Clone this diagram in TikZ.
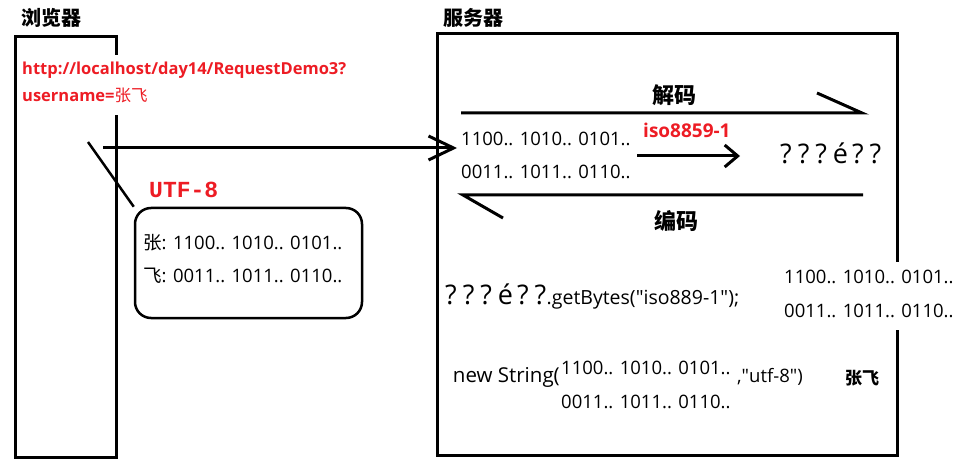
\documentclass[tikz,border=0pt]{standalone}
\usepackage{fontspec}
\setmainfont{Open Sans}
\newfontfamily\cjk{Noto Sans CJK SC}
\newfontfamily\monof{Liberation Mono}
\usetikzlibrary{arrows.meta}
\definecolor{rd}{RGB}{237,28,36}
\newcommand{\qq}{?\hspace{6pt}?\hspace{6pt}?\hspace{6pt}é\hspace{4pt}?\hspace{6pt}?}
\newcommand{\dq}{\XeTeXglyph\the\XeTeXcharglyph"22\relax}
\begin{document}
\begin{tikzpicture}[x=1pt,y=-1pt,
  thick3/.style={line width=3pt},
  txt/.style={inner sep=0pt,anchor=base west,font=\fontsize{18.5}{20}\selectfont},
  redtxt/.style={inner sep=0pt,anchor=base west,text=rd,font=\fontsize{16.5}{18}\selectfont\bfseries},
  title/.style={inner sep=0pt,font=\fontsize{20}{22}\selectfont\cjk\bfseries},
  big/.style={inner sep=0pt,anchor=base west,font=\fontsize{27}{29}\selectfont},
  barb/.style={-{Straight Barb[length=25pt,width=24pt,line width=3pt]}}
]
\useasboundingbox (0,0) rectangle (969,470);
% boxes
\draw[thick3] (15,37) rectangle (116,457);
\draw[thick3] (437,34) rectangle (897,455);
\fill[white] (110,55) rectangle (122,115);
\fill[white] (890,262) rectangle (904,330);
% titles
\node[title] (tb) at (51,18) {浏览器};
\node[title] (ts) at (473,18) {服务器};
% url
\node[redtxt] (url1) at (22,75) {http://localhost/day14/RequestDemo3?};
\node[redtxt] (url2) at (22,102) {username={\cjk\mdseries 张飞}};
% main arrow
\coordinate (a0) at (103,148);
\coordinate (a1) at (457,148);
\draw[thick3,barb] (a0) -- (a1);
% diagonal to box
\coordinate (d0) at (88,142);
\node[draw,line width=2.5pt,rounded corners=16pt,minimum width=227pt,minimum height=110pt] (ubox) at (248.5,263) {};
\draw[line width=2.5pt] (d0) -- (ubox.north west);
\node[inner sep=0pt,anchor=base west,text=rd,font=\fontsize{23}{25}\selectfont\monof\bfseries] (utf) at (149,198) {UTF-8};
\node[txt] (z1) at (143,250) {{\cjk 张}: 1100.. 1010.. 0101..};
\node[txt] (z2) at (143,283) {{\cjk 飞}: 0011.. 1011.. 0110..};
% server
\coordinate (j0) at (461,113);
\coordinate (j1) at (862,113);
\draw[thick3] (j0) -- (j1) -- ++(-45,-20);
\node[title,font=\fontsize{22}{24}\selectfont\cjk\bfseries] (jm) at (674,95) {解码};
\coordinate (b0) at (863,195);
\coordinate (b1) at (463,195);
\draw[thick3] (b0) -- (b1) -- ++(40,23);
\node[title,font=\fontsize{22}{24}\selectfont\cjk\bfseries] (bm) at (676,221) {编码};
\node[txt] (s1) at (461,146) {1100.. 1010.. 0101..};
\node[txt] (s2) at (461,179) {0011.. 1011.. 0110..};
\node[redtxt,font=\fontsize{19}{21}\selectfont\bfseries] (iso) at (643,138) {iso8859-1};
\coordinate (c0) at (637,156);
\coordinate (c1) at (740,156);
\draw[thick3,-{Straight Barb[length=13pt,width=22pt,line width=3pt]}] (c0) -- (c1);
\node[big] (q1) at (780,164) {\qq};
\node[big] (q2) at (445,305) {\qq};
\node[txt,font=\fontsize{19.5}{21}\selectfont] (gb) at (q2.base east) {.getBytes(\dq iso889-1\dq);};
\node[txt] (r1) at (784,284) {1100.. 1010.. 0101..};
\node[txt] (r2) at (784,318) {0011.. 1011.. 0110..};
\node[txt,anchor=base east,font=\fontsize{20.5}{22}\selectfont] (ns) at (560,382) {new String(};
\node[txt] (m1) at (561,374) {1100.. 1010.. 0101..};
\node[txt] (m2) at (561,408) {0011.. 1011.. 0110..};
\node[txt] (uf) at (737,382) {,\dq utf-8\dq)};
\node[inner sep=0pt,anchor=base west,font=\fontsize{17}{19}\selectfont\cjk\bfseries] (zf) at (845,384) {张飞};
\end{tikzpicture}
\end{document}
